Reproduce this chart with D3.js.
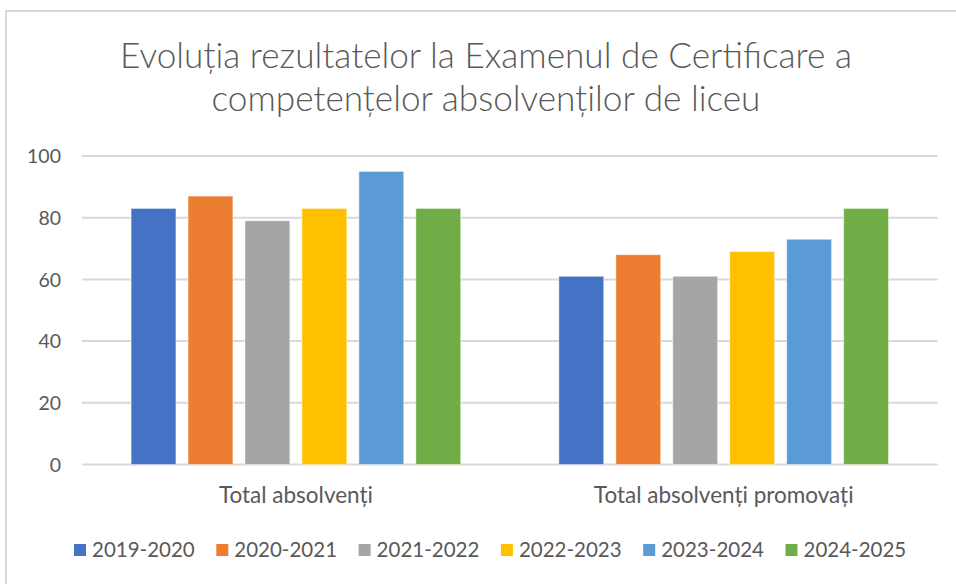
<!DOCTYPE html>
<html>
<head>
<meta charset="utf-8">
<script src="https://cdn.jsdelivr.net/npm/d3@7"></script>
<style>
  html, body { margin: 0; padding: 0; background: #fff; }
  svg { display: block; }
  text { font-family: Lato, "Noto Sans", sans-serif; fill: #595959; }
</style>
</head>
<body>
<svg id="chart" width="956" height="584"></svg>
<script>
const titleLines = ["Evoluția rezultatelor la Examenul de Certificare a", "competențelor absolvenților de liceu"];
const categories = ["Total absolvenți", "Total absolvenți promovați"];
const seriesNames = ["2019-2020", "2020-2021", "2021-2022", "2022-2023", "2023-2024", "2024-2025"];
const values2019 = [83, 61];
const values2020 = [87, 68];
const values2021 = [79, 61];
const values2022 = [83, 69];
const values2023 = [95, 73];
const values2024 = [83, 83];
const seriesValues = [values2019, values2020, values2021, values2022, values2023, values2024];
const colors = ["#4472C4", "#ED7D31", "#A5A5A5", "#FFC000", "#5B9BD5", "#70AD47"];
const yTicks = [0, 20, 40, 60, 80, 100];

const svg = d3.select("#chart");
const W = 956, H = 584;
const plot = { left: 82, right: 937.6, top: 156, bottom: 464.5 };

// chart frame (cropped at right/bottom)
svg.append("path")
  .attr("d", `M6,${H} V11 H${W}`)
  .attr("fill", "none").attr("stroke", "#d9d9d9").attr("stroke-width", 2);

// title
const title = svg.append("g");
titleLines.forEach((t, i) => {
  title.append("text")
    .attr("x", 486).attr("y", 68 + i * 43)
    .attr("text-anchor", "middle")
    .style("font-size", "29px")
    .style("font-weight", 300)
    .text(t);
});
// fit title line 1 to reference width
{
  const n = title.select("text").node();
  const w = n.getComputedTextLength();
  const fs = 29 * 732 / w;
  title.selectAll("text").style("font-size", fs + "px");
}

const y = d3.scaleLinear().domain([0, 100]).range([plot.bottom, plot.top]);
const x0 = d3.scaleBand().domain(categories).range([plot.left, plot.right]).padding(0);
const bw0 = x0.bandwidth();
const groupW = bw0 * 7.35 / 9.54;
const x1 = d3.scaleBand().domain(seriesNames)
  .range([(bw0 - groupW) / 2, (bw0 + groupW) / 2])
  .paddingInner(0.27 / 1.27).paddingOuter(0);

// gridlines
svg.append("g")
  .selectAll("line").data(yTicks).join("line")
  .attr("x1", plot.left).attr("x2", plot.right)
  .attr("y1", d => y(d)).attr("y2", d => y(d))
  .attr("stroke", "#d9d9d9").attr("stroke-width", 2);

// y axis labels
const yAxis = d3.axisLeft(y).tickValues(yTicks).tickSize(0).tickPadding(0);
const yg = svg.append("g").attr("transform", `translate(61,0)`).call(yAxis);
yg.select(".domain").remove();
yg.selectAll("text").style("font-size", "19.5px").attr("fill", "#595959")
  .style("font-family", "Lato, 'Noto Sans', sans-serif").attr("dy", "0.35em");

// bars
const groups = svg.append("g").selectAll("g").data(categories).join("g")
  .attr("transform", d => `translate(${x0(d)},0)`);
groups.selectAll("rect")
  .data((c, ci) => seriesNames.map((s, si) => ({ s, si, v: seriesValues[si][ci] })))
  .join("rect")
  .attr("x", d => x1(d.s))
  .attr("width", x1.bandwidth())
  .attr("y", d => y(d.v))
  .attr("height", d => y(0) - y(d.v))
  .attr("fill", d => colors[d.si])
  .attr("stroke", "rgba(255,255,255,0.45)")
  .attr("stroke-width", 1);

// x axis labels
const xAxis = d3.axisBottom(x0).tickSize(0).tickPadding(0);
const xg = svg.append("g").attr("transform", `translate(0,${plot.bottom})`).call(xAxis);
xg.select(".domain").remove();
xg.selectAll("text").style("font-size", "22.5px").attr("fill", "#595959")
  .style("font-family", "Lato, 'Noto Sans', sans-serif")
  .attr("dy", null).attr("y", 38.5);

// legend
const legStep = 142.3;
const legStart = 74;
const leg = svg.append("g");
const items = leg.selectAll("g").data(seriesNames).join("g")
  .attr("transform", (d, i) => `translate(${legStart + i * legStep},0)`);
items.append("rect")
  .attr("x", 0).attr("y", 544).attr("width", 12).attr("height", 12)
  .attr("fill", (d, i) => colors[i]);
items.append("text")
  .attr("x", 18).attr("y", 557)
  .style("font-size", "20.5px")
  .text(d => d);
</script>
</body>
</html>
